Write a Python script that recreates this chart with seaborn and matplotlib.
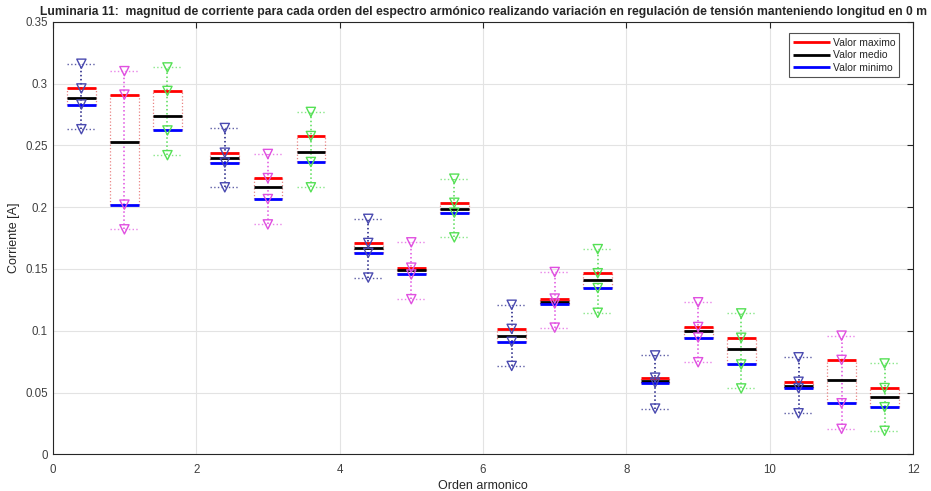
import numpy as np
import pandas as pd
import matplotlib
matplotlib.use("Agg")
import matplotlib.pyplot as plt
import seaborn as sns

# Posiciones de cada caja (3 por orden armonico impar)
posiciones = [0.4, 1.0, 1.6, 2.4, 3.0, 3.6, 4.4, 5.0, 5.6,
              6.4, 7.0, 7.6, 8.4, 9.0, 9.6, 10.4, 11.0, 11.6]
bigote_sup = [0.316, 0.310, 0.313, 0.264, 0.243, 0.277, 0.1905, 0.1715, 0.223,
              0.121, 0.1475, 0.166, 0.080, 0.123, 0.114, 0.0785, 0.096, 0.0735]
valor_max = [0.296, 0.291, 0.294, 0.244, 0.2235, 0.2575, 0.171, 0.151, 0.2035,
             0.1015, 0.126, 0.1465, 0.062, 0.103, 0.0943, 0.0587, 0.0764, 0.0536]
valor_medio = [0.288, 0.253, 0.274, 0.2395, 0.2165, 0.2445, 0.167, 0.149, 0.1985,
               0.096, 0.1235, 0.141, 0.0595, 0.0995, 0.085, 0.0554, 0.0603, 0.0464]
valor_min = [0.283, 0.202, 0.262, 0.236, 0.2065, 0.2365, 0.163, 0.1455, 0.1955,
             0.091, 0.122, 0.1345, 0.058, 0.0945, 0.0727, 0.0535, 0.0413, 0.0381]
bigote_inf = [0.263, 0.182, 0.242, 0.216, 0.186, 0.216, 0.143, 0.1255, 0.1755,
              0.0715, 0.1025, 0.1145, 0.037, 0.0745, 0.0533, 0.0332, 0.0206, 0.0190]

serie = ['azul', 'magenta', 'verde'] * 6
colores_marc = {'azul': '#4a4ab0', 'magenta': '#e050e0', 'verde': '#55e055'}
colores_linea = {'azul': '#1a1a80', 'magenta': '#e050e0', 'verde': '#55dd55'}

df = pd.DataFrame({'x': posiciones, 'sup': bigote_sup, 'max': valor_max,
                   'medio': valor_medio, 'min': valor_min, 'inf': bigote_inf,
                   'serie': serie})

sns.set_style("white")
plt.rcParams['font.family'] = ['Liberation Sans', 'DejaVu Sans']

fig = plt.figure(figsize=(9.31, 4.91), dpi=100)
ax = fig.add_axes([0.0566, 0.0747, 0.9244, 0.8811])

w = 0.2
for _, r in df.iterrows():
    c = colores_linea[r['serie']]
    # linea central y topes punteados
    ax.plot([r['x'], r['x']], [r['inf'], r['sup']], ls=':', color=c, lw=1.1, zorder=2)
    ax.plot([r['x'] - w, r['x'] + w], [r['sup'], r['sup']], ls=':', color=c, lw=1.0, alpha=0.7, zorder=2)
    ax.plot([r['x'] - w, r['x'] + w], [r['inf'], r['inf']], ls=':', color=c, lw=1.0, alpha=0.7, zorder=2)
    # lados de la caja
    for xs in (r['x'] - w, r['x'] + w):
        ax.plot([xs, xs], [r['min'], r['max']], ls=':', color='#e05050', lw=0.9, alpha=0.7, zorder=2)

# lineas de valor maximo, medio y minimo
ax.hlines(df['max'], df['x'] - w, df['x'] + w, color='#ff0000', lw=2, zorder=3, label='Valor maximo')
ax.hlines(df['medio'], df['x'] - w, df['x'] + w, color='black', lw=2, zorder=3, label='Valor medio')
ax.hlines(df['min'], df['x'] - w, df['x'] + w, color='#0000ff', lw=2, zorder=3, label='Valor minimo')

# triangulos
marc = df.melt(id_vars=['x', 'serie'], value_vars=['sup', 'max', 'min', 'inf'], value_name='y')
for s, g in marc.groupby('serie'):
    sns.scatterplot(data=g, x='x', y='y', marker='v', s=44, facecolor='none',
                    edgecolor=colores_marc[s], linewidth=1.0, ax=ax, zorder=4, legend=False)

ax.set_xlim(0, 12)
ax.set_ylim(0, 0.35)
ax.set_xticks(np.arange(0, 13, 2))
ax.set_yticks(np.arange(0, 0.36, 0.05))
ax.set_yticklabels(['0', '0.05', '0.1', '0.15', '0.2', '0.25', '0.3', '0.35'])
ax.grid(True, color='#e3e3e3', lw=0.8, zorder=0)
ax.set_axisbelow(True)
ax.tick_params(direction='in', top=True, right=True, length=4, width=0.8,
               colors='#262626', labelsize=8.3, labelcolor='#404040')
ax.tick_params(axis='x', pad=7)
for sp in ax.spines.values():
    sp.set_color('#262626')
    sp.set_linewidth(0.8)

ax.set_xlabel('Orden armonico', fontsize=9, color='#262626', labelpad=3)
ax.set_ylabel('Corriente [A]', fontsize=9, color='#262626', labelpad=4)
ax.set_title('Luminaria 11:  magnitud de corriente para cada orden del espectro armónico realizando '
             'variación en regulación de tensión manteniendo longitud en 0 m',
             fontsize=8.7, fontweight='bold', pad=5)

leg = ax.legend(loc='upper right', fontsize=7.5, frameon=True, fancybox=False,
                edgecolor='#262626', handlelength=3.5, handletextpad=0.3,
                borderpad=0.4, labelspacing=0.25, bbox_to_anchor=(0.99, 0.985))
leg.get_frame().set_linewidth(0.8)

fig.savefig('out.png', dpi=100)
